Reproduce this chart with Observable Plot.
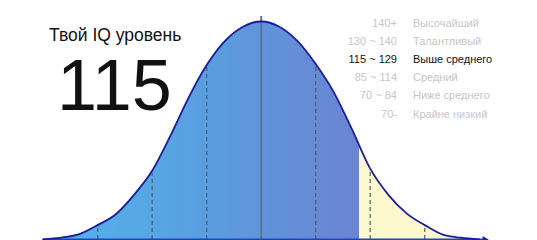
<!DOCTYPE html>
<html>
<head>
<meta charset="utf-8">
<script src="https://cdn.jsdelivr.net/npm/d3@7"></script>
<script src="https://cdn.jsdelivr.net/npm/@observablehq/plot@0.6"></script>
<style>
  html, body { margin: 0; padding: 0; background: #fff; }
  #wrap { position: relative; width: 537px; height: 240px; overflow: hidden; font-family: "Liberation Sans", Arial, sans-serif; }
  #wrap svg { position: absolute; left: 0; top: 0; }
  .title { position: absolute; left: 49px; top: 27px; font-size: 17.5px; color: #111; white-space: nowrap; line-height: 1; }
  .score { position: absolute; left: 57px; top: 49px; font-size: 72px; color: #111; line-height: 1; white-space: nowrap; }
  .legend { position: absolute; left: 0; top: 14px; font-size: 11px; }
  .row { position: absolute; height: 18px; line-height: 18px; white-space: nowrap; color: #c6c6c6; }
  .row .r { position: absolute; right: 0; width: 120px; text-align: right; }
  .row .l { position: absolute; left: 16px; }
  .row.active { color: #111; }
</style>
</head>
<body>
<div id="wrap"></div>
<script>
// IQ values along the axis and curve height (relative to peak)
const iq =     [40, 45, 50, 55, 60, 65, 70, 75, 80, 85, 90, 95, 100, 105, 110, 115, 120, 125, 130, 135, 140, 145, 150, 155, 160];
const curveH = [0.001, 0.009, 0.025, 0.066, 0.116, 0.205, 0.315, 0.475, 0.65, 0.80, 0.91, 0.976, 1.0, 0.976, 0.91, 0.805, 0.675, 0.505, 0.325, 0.205, 0.12, 0.066, 0.022, 0.008, 0.001];
// dashed guide lines (IQ) and their tops
const guideIQ = [55, 70, 85, 115, 130, 145];
const guideTop = [0.066, 0.30, 0.80, 0.805, 0.325, 0.066];
const meanIQ = 100;
const meanTop = 1.023;
const highlightEnd = 127;   // blue fill stops here, yellow beyond
const axisEnd = 161.5;

const myIQ = "115";
const titleText = "Твой IQ уровень";
const ranges = ["140+", "130 ~ 140", "115 ~ 129", "85 ~ 114", "70 ~ 84", "70-"];
const levels = ["Высочайший", "Талантливый", "Выше среднего", "Средний", "Ниже среднего", "Крайне низкий"];
const activeRow = 2;

const curve = iq.map((v, i) => ({iq: v, h: curveH[i]}));
const guides = guideIQ.map((v, i) => ({iq: v, top: guideTop[i]}));

const gradientDefs = (index, scales) => {
  const ns = "http://www.w3.org/2000/svg";
  const defs = document.createElementNS(ns, "defs");
  const g = document.createElementNS(ns, "linearGradient");
  g.setAttribute("id", "bellfill");
  g.setAttribute("gradientUnits", "userSpaceOnUse");
  const x0 = scales.x(iq[0]), x1 = scales.x(iq[iq.length - 1]);
  g.setAttribute("x1", x0); g.setAttribute("x2", x1);
  g.setAttribute("y1", 0); g.setAttribute("y2", 0);
  const t = (scales.x(highlightEnd) - x0) / (x1 - x0);
  const stops = [[0, "#52b5ea"], [t * 0.5, "#599fdf"], [t, "#6b83d2"], [t, "#fcf9cf"], [1, "#fcf9cf"]];
  for (const [o, c] of stops) {
    const s = document.createElementNS(ns, "stop");
    s.setAttribute("offset", o);
    s.setAttribute("stop-color", c);
    g.appendChild(s);
  }
  defs.appendChild(g);
  return defs;
};

const xpx = 54.5 / 15; // px per IQ point
const cx = 260.7;

const chart = Plot.plot({
  width: 537,
  height: 240,
  margin: 0,
  x: {domain: [100 - cx / xpx, 100 + (537 - cx) / xpx], range: [0, 537], axis: null},
  y: {domain: [0, 1], range: [239, 21], axis: null},
  style: {background: "transparent", overflow: "visible"},
  marks: [
    gradientDefs,
    Plot.areaY(curve, {x: "iq", y: "h", curve: "monotone-x", fill: "url(#bellfill)"}),
    Plot.ruleX(guides, {x: "iq", y1: 0, y2: "top", stroke: "#4d5c6c", strokeWidth: 1.4, strokeDasharray: "4,3", strokeOpacity: 0.85}),
    Plot.ruleX([meanIQ], {y1: 0, y2: meanTop, stroke: "#587891", strokeWidth: 2}),
    Plot.ruleY([0], {x1: iq[0], x2: axisEnd, stroke: "#2142c8", strokeWidth: 2}),
    Plot.dot([axisEnd], {x: d => d, y: 0, symbol: "triangle", r: 2.6, rotate: 90, fill: "#1a2a9a", stroke: null}),
    Plot.line(curve, {x: "iq", y: "h", curve: "monotone-x", stroke: "#1c1f98", strokeWidth: 1.8})
  ]
});

const wrap = document.getElementById("wrap");
wrap.appendChild(chart);

const t = document.createElement("div");
t.className = "title"; t.textContent = titleText; wrap.appendChild(t);
const s = document.createElement("div");
s.className = "score"; s.textContent = myIQ; wrap.appendChild(s);

const legend = document.createElement("div");
legend.className = "legend";
ranges.forEach((r, i) => {
  const row = document.createElement("div");
  row.className = "row" + (i === activeRow ? " active" : "");
  row.style.left = "277px";
  row.style.width = "120px";
  row.style.top = (i * 18.1) + "px";
  const a = document.createElement("span"); a.className = "r"; a.textContent = r;
  const b = document.createElement("span"); b.className = "l"; b.textContent = levels[i];
  b.style.left = "136px";
  row.appendChild(a); row.appendChild(b);
  legend.appendChild(row);
});
wrap.appendChild(legend);
</script>
</body>
</html>
